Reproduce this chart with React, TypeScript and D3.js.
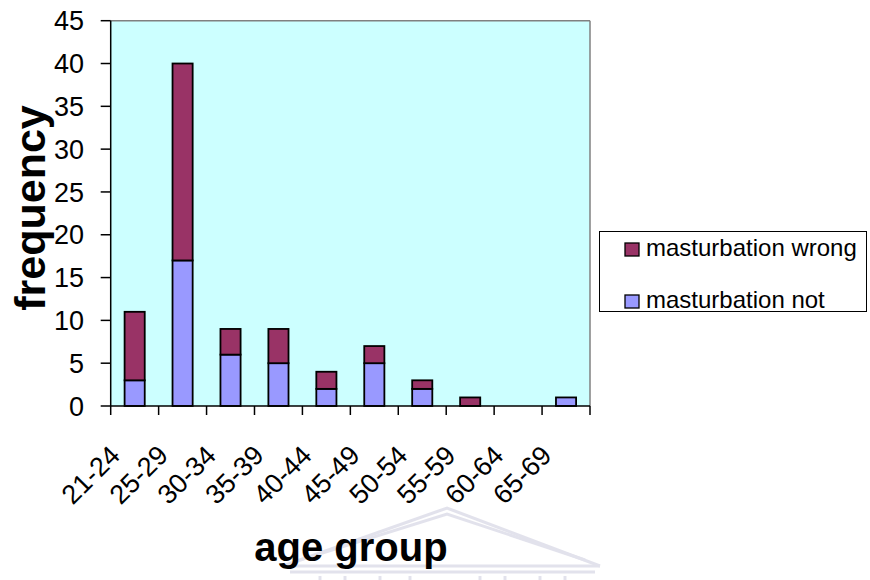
import React from "react";
import * as d3 from "d3";

const categories = ["21-24", "25-29", "30-34", "35-39", "40-44", "45-49", "50-54", "55-59", "60-64", "65-69"];
const notValues = [3, 17, 6, 5, 2, 5, 2, 0, 0, 1];
const wrongValues = [8, 23, 3, 4, 2, 2, 1, 1, 0, 0];
const yTicks = [0, 5, 10, 15, 20, 25, 30, 35, 40, 45];
const seriesNames = ["masturbation wrong", "masturbation not"];
const seriesColors = ["#993366", "#9999FF"];

const W = 870;
const H = 580;
const left = 110.7;
const right = 590;
const top = 20.7;
const bottom = 406;
const FONT = "'Liberation Sans', Arial, sans-serif";

export default function App() {
  const x = d3.scaleBand<string>().domain(categories).range([left, right]).padding(0);
  const y = d3.scaleLinear().domain([0, 45]).range([bottom, top]);
  const bw = x.bandwidth();
  const barW = bw * 0.42;

  const rows = categories.map((c, i) => ({ cat: c, not: notValues[i], wrong: wrongValues[i] }));
  const stack = d3.stack<any>().keys(["not", "wrong"])(rows);
  const colorFor: Record<string, string> = { not: seriesColors[1], wrong: seriesColors[0] };

  const tickEdges = [...categories.map((c) => x(c) as number), right];

  return (
    <svg width={W} height={H} style={{ position: "absolute", left: 0, top: 0, background: "#fff" }}>
      {/* faint watermark */}
      <g stroke="#dcdce8" strokeWidth={3} fill="none" opacity={0.8}>
        <path d="M283,566 L447,508 L600,566" />
        <path d="M300,560 L447,514 L585,560" />
        <line x1={283} y1={566} x2={600} y2={566} />
        <line x1={290} y1={572} x2={595} y2={572} />
        {[320, 345, 380, 410, 480, 505, 540, 565].map((cx) => (
          <line key={cx} x1={cx} y1={576} x2={cx} y2={580} />
        ))}
      </g>

      <rect x={left} y={top} width={right - left} height={bottom - top} fill="#CCFFFF" />
      <line x1={left} y1={top} x2={right} y2={top} stroke="#808080" strokeWidth={1.5} />
      <line x1={right} y1={top} x2={right} y2={bottom} stroke="#808080" strokeWidth={1.5} />

      {stack.map((s) =>
        s.map((d, i) => {
          const h = y(d[0]) - y(d[1]);
          if (h <= 0) return null;
          return (
            <rect
              key={s.key + i}
              x={(x(categories[i]) as number) + (bw - barW) / 2}
              y={y(d[1])}
              width={barW}
              height={h}
              fill={colorFor[s.key]}
              stroke="#000"
              strokeWidth={1.8}
            />
          );
        })
      )}

      {/* y axis */}
      <line x1={left} y1={top} x2={left} y2={bottom} stroke="#000" strokeWidth={1.5} />
      {yTicks.map((t) => (
        <g key={t}>
          <line x1={left - 10} y1={y(t)} x2={left} y2={y(t)} stroke="#000" strokeWidth={1.5} />
          <text x={84} y={y(t)} dy="0.36em" textAnchor="end" fontFamily={FONT} fontSize={27} fill="#000">
            {t}
          </text>
        </g>
      ))}

      {/* x axis */}
      <line x1={left} y1={bottom} x2={right} y2={bottom} stroke="#000" strokeWidth={1.5} />
      {tickEdges.map((tx, i) => (
        <line key={i} x1={tx} y1={bottom} x2={tx} y2={bottom + 9} stroke="#000" strokeWidth={1.5} />
      ))}
      {categories.map((c) => {
        const cx = (x(c) as number) + bw / 2 - 13;
        const cy = 457;
        return (
          <text
            key={c}
            x={cx}
            y={cy}
            textAnchor="end"
            transform={`rotate(-45 ${cx} ${cy})`}
            fontFamily={FONT}
            fontSize={27}
            fill="#000"
          >
            {c}
          </text>
        );
      })}

      <text
        x={45}
        y={208}
        textAnchor="middle"
        transform="rotate(-90 45 208)"
        fontFamily={FONT}
        fontWeight="bold"
        fontSize={43}
        fill="#000"
      >
        frequency
      </text>
      <text x={351} y={561} textAnchor="middle" fontFamily={FONT} fontWeight="bold" fontSize={40} fill="#000">
        age group
      </text>

      {/* legend */}
      <rect x={599.5} y={231.5} width={267} height={80} fill="#fff" stroke="#000" strokeWidth={1} />
      {seriesNames.map((n, i) => (
        <g key={n}>
          <rect x={625} y={243 + i * 52} width={14} height={13} fill={seriesColors[i]} stroke="#000" strokeWidth={1.3} />
          <text x={646} y={256 + i * 52} fontFamily={FONT} fontSize={24} fill="#000">
            {n}
          </text>
        </g>
      ))}
    </svg>
  );
}
